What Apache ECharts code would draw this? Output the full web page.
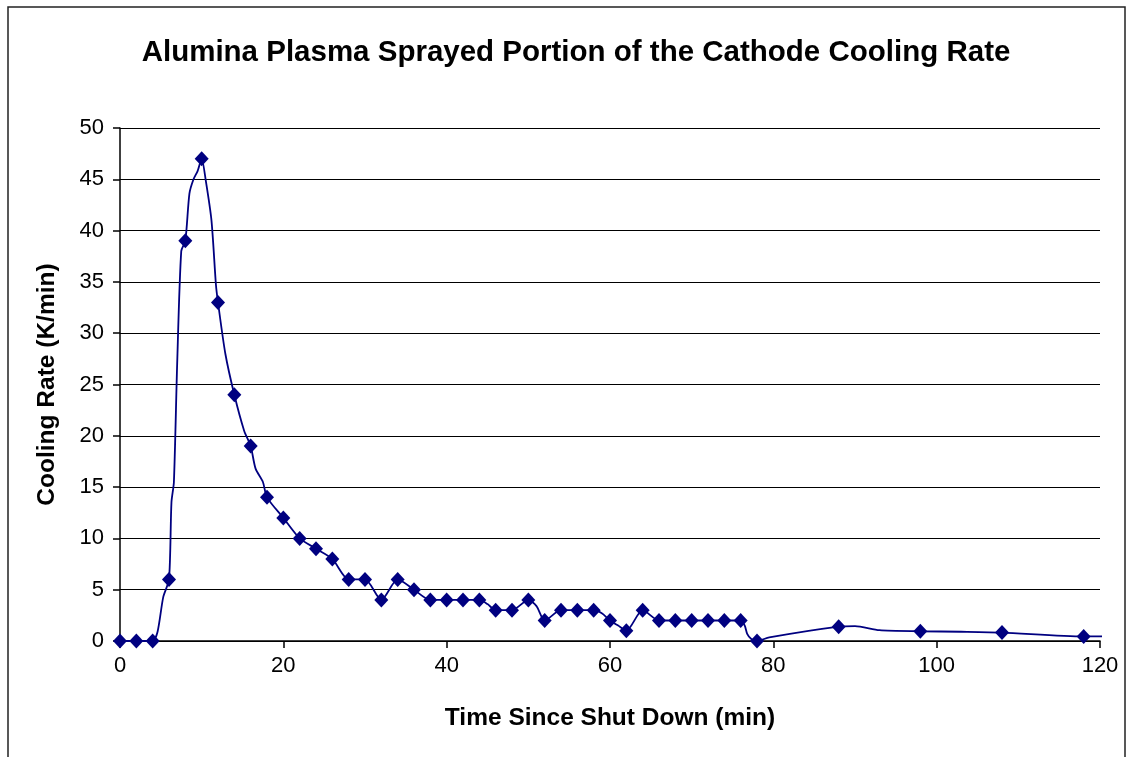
<!DOCTYPE html>
<html>
<head>
<meta charset="utf-8">
<title>Alumina Plasma Sprayed Portion of the Cathode Cooling Rate</title>
<script src="https://cdn.jsdelivr.net/npm/echarts@6/dist/echarts.min.js"></script>
<style>
  html, body { margin: 0; padding: 0; background: #fff; }
  #chart { width: 1130px; height: 757px; }
</style>
</head>
<body>
<div id="chart"></div>
<script>
// Measured cooling-rate samples (markers)
const markTime = [0, 2, 4, 6, 8, 10, 12, 14, 16, 18, 20, 22, 24, 26, 28, 30, 32, 34, 36, 38,
  40, 42, 44, 46, 48, 50, 52, 54, 56, 58, 60, 62, 64, 66, 68, 70, 72, 74, 76, 78,
  88, 98, 108, 118];
const markRate = [0, 0, 0, 6, 39, 47, 33, 24, 19, 14, 12, 10, 9, 8, 6, 6, 4, 6, 5, 4,
  4, 4, 4, 3, 3, 4, 2, 3, 3, 3, 2, 1, 3, 2, 2, 2, 2, 2, 2, 0,
  1.4, 0.95, 0.82, 0.45];

// Continuous logged trace (drawn as the connecting curve)
const lineTime = [0, 2, 4, 4.6, 5.3, 6, 6.3, 6.6, 7, 7.5, 8, 8.5, 9, 9.5, 10, 10.5, 11.2, 11.75, 12,
  12.9, 14, 15.2, 16, 16.6, 17.5, 18, 20, 22, 24, 26, 28, 30, 32, 34, 36, 38,
  40, 42, 44, 45, 46, 48, 50, 51, 52, 54, 56, 58, 59, 60, 61, 62, 64, 66, 68, 70, 72, 74,
  75.6, 76, 76.5, 76.8, 77.3, 78, 79.5, 88, 90, 93, 98, 103, 108, 118, 120.8];
const lineRate = [0, 0, 0, 0.9, 4.3, 6, 13.5, 15.5, 27, 38, 39, 43.6, 45, 45.8, 47, 44.9, 41, 34.7, 33,
  28, 24, 20.5, 19, 16.8, 15.5, 14, 12, 10, 9, 8, 6, 6, 4, 6, 5, 4,
  4, 4, 4, 3.6, 3, 3, 4, 3.4, 2, 3, 3, 3, 2.7, 2, 1.5, 1, 3, 2, 2, 2, 2, 2,
  2, 2, 1.5, 0.7, 0.2, 0, 0.35, 1.4, 1.45, 1.05, 0.95, 0.9, 0.82, 0.45, 0.45];

// Axis ticks
const xTicks = { min: 0, max: 120, step: 20 };
const yTicks = { min: 0, max: 50, step: 5 };

const navy = '#000080';
const fontFamily = '"Liberation Sans", Arial, sans-serif';

const chart = echarts.init(document.getElementById('chart'), null, { renderer: 'canvas' });

chart.setOption({
  backgroundColor: '#ffffff',
  animation: false,
  title: {
    text: 'Alumina Plasma Sprayed Portion of the Cathode Cooling Rate',
    left: 571,
    top: 33,
    textAlign: 'center',
    textStyle: { fontFamily, fontSize: 29.5, fontWeight: 'bold', color: '#000' }
  },
  graphic: [{
    type: 'rect',
    shape: { x: 8, y: 7, width: 1117, height: 770 },
    style: { fill: 'none', stroke: '#222', lineWidth: 1.5 },
    silent: true,
    z: -1
  }],
  grid: { left: 120, right: 30, top: 128, bottom: 116, containLabel: false },
  xAxis: {
    type: 'value',
    min: xTicks.min,
    max: xTicks.max,
    interval: xTicks.step,
    name: 'Time Since Shut Down (min)',
    nameLocation: 'middle',
    nameGap: 65,
    nameTextStyle: { fontFamily, fontSize: 24.5, fontWeight: 'bold', color: '#000' },
    axisLine: { show: true, onZero: false, lineStyle: { color: '#000', width: 1.5 } },
    axisTick: { show: true, inside: false, length: 7, lineStyle: { color: '#000', width: 1.5 } },
    axisLabel: { fontFamily, fontSize: 22, color: '#000', margin: 14 },
    splitLine: { show: false }
  },
  yAxis: {
    type: 'value',
    min: yTicks.min,
    max: yTicks.max,
    interval: yTicks.step,
    name: 'Cooling Rate (K/min)',
    nameLocation: 'middle',
    nameGap: 60,
    nameRotate: 90,
    nameTextStyle: { fontFamily, fontSize: 24.5, fontWeight: 'bold', color: '#000' },
    axisLine: { show: true, lineStyle: { color: '#000', width: 1.5 } },
    axisTick: { show: true, inside: false, length: 7, lineStyle: { color: '#000', width: 1.5 } },
    axisLabel: { fontFamily, fontSize: 22, color: '#000', margin: 16 },
    splitLine: { show: true, lineStyle: { color: '#000', width: 1.2 } }
  },
  series: [
    {
      name: 'trace',
      type: 'line',
      data: lineTime.map((t, i) => [t, lineRate[i]]),
      showSymbol: false,
      symbol: 'none',
      smooth: 0.25,
      clip: false,
      lineStyle: { color: navy, width: 1.8 },
      z: 2
    },
    {
      name: 'samples',
      type: 'scatter',
      data: markTime.map((t, i) => [t, markRate[i]]),
      symbol: 'diamond',
      symbolSize: [14, 15],
      itemStyle: { color: navy, opacity: 1 },
      clip: false,
      z: 3
    }
  ]
});
</script>
</body>
</html>
